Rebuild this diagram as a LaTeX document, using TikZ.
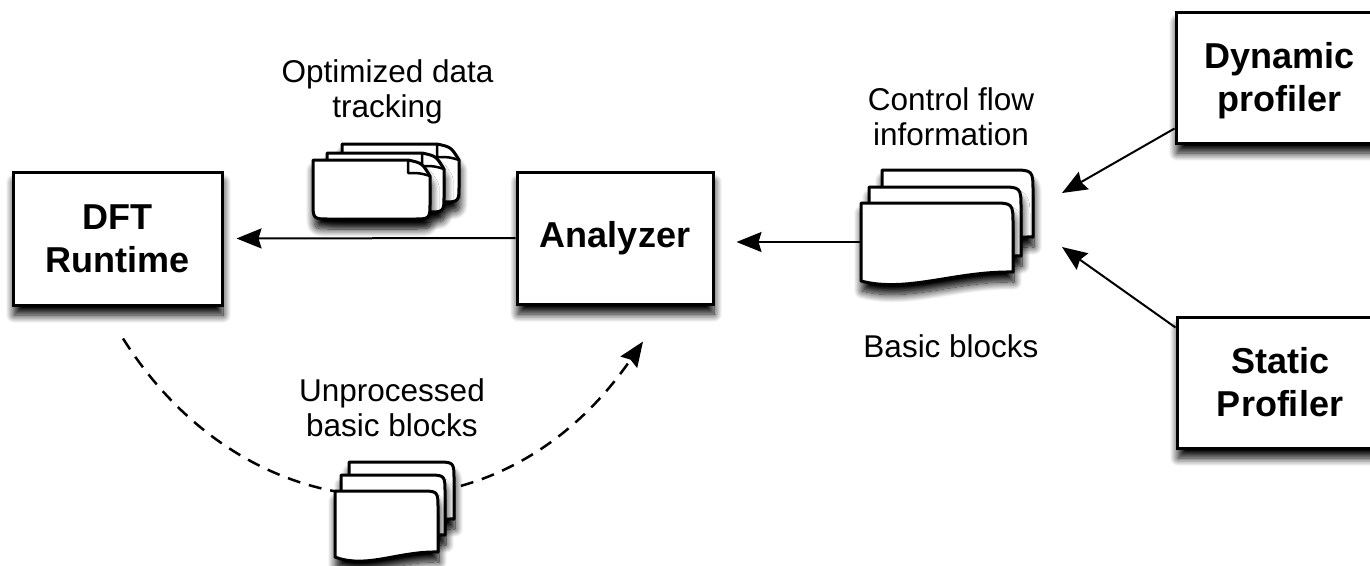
\documentclass[tikz,border=0pt]{standalone}
\usepackage{fontspec}
\setmainfont{Liberation Sans}
\usetikzlibrary{arrows.meta,calc,shadows.blur}
\tikzset{
  shd/.style={blur shadow={shadow xshift=1pt, shadow yshift=-10pt, shadow blur radius=8pt, shadow blur steps=14, shadow opacity=100}},
  box/.style={draw, line width=3pt, fill=white, shd, font=\bfseries\fontsize{36}{43}\selectfont, align=center, inner sep=0pt},
  ghost/.style={inner sep=0pt, outer sep=0pt, anchor=north west},
  lbl/.style={font=\fontsize{31.5}{35}\selectfont, align=center, inner sep=0pt},
  docline/.style={draw, fill=white, line width=3pt, line join=round, shd},
  arr/.style={line width=2pt, -{Stealth[length=25pt,width=20pt,inset=3pt]}},
  dasharr/.style={line width=2.5pt, dash pattern=on 13pt off 9pt, -{Stealth[length=25pt,width=20pt,inset=3pt]}},
  pics/doca/.style n args={2}{code={
    \path[docline] (0,0) -- ({#1-22},0) .. controls ({#1-8},3) .. (#1,16) -- (#1,{#2-17})
      .. controls (#1,#2) .. ({#1-17},#2) -- (17,#2) .. controls (0,#2) .. (0,{#2-17}) -- cycle;
    \draw[line width=2.5pt, line join=round] ({#1-22},0) -- ({#1-22},13) .. controls ({#1-10},13) .. (#1,16);
  }},
  pics/docb/.style n args={4}{code={
    \path[docline] (0,0) -- ({#1-#4},0) .. controls (#1,0) .. (#1,#4) -- (#1,#3)
      .. controls ({0.62*#1},{#3-1}) and ({0.3*#1},{#2+12}) .. (0,#2) -- cycle;
  }},
}
\begin{document}
\begin{tikzpicture}[x=1pt,y=-1pt]
\useasboundingbox (0,0) rectangle (1370,565);

% boxes
\node[box, minimum width=209pt, minimum height=133pt] (dft) at (117.5,238.5) {DFT\\Runtime};
\node[box, minimum width=196pt, minimum height=132pt] (ana) at (615,238) {Analyzer};
\node[box, minimum width=207pt, minimum height=131pt] (dyn) at (1279.5,77.5) {Dynamic\\\smash{p}rofiler};
\node[box, minimum width=206pt, minimum height=131pt] (st) at (1280,382.5) {Static\\Profiler};

% stack anchors
\node[ghost, minimum width=117pt, minimum height=59pt] (opt) at (313,160) {};
\node[ghost, minimum width=152pt, minimum height=78pt] (cf) at (861,203) {};
\node[ghost, minimum width=103pt, minimum height=66pt] (unp) at (335,491) {};
\coordinate (cfin1) at (1062,193);
\coordinate (cfin2) at (1062,247);

% dashed feedback connector
\draw[dasharr] ($(dft.south)+(5.5,32)$) .. controls (250,540) and (500,550) .. ($(ana.south)+(28,36)$);

% document stacks
\pic at ($(opt.north west)+(29,-16)$) {doca={117}{58}};
\pic at ($(opt.north west)+(14,-7)$) {doca={117}{59}};
\pic at (opt.north west) {doca={117}{59}};

\pic at ($(cf.north west)+(21,-33)$) {docb={151}{78}{67}{22}};
\pic at ($(cf.north west)+(8,-16)$) {docb={152}{78}{69}{22}};
\pic at (cf.north west) {docb={152}{78}{69}{22}};

\pic at ($(unp.north west)+(14,-29)$) {docb={105}{66}{57}{18}};
\pic at ($(unp.north west)+(6,-16)$) {docb={104}{66}{60}{18}};
\pic at (unp.north west) {docb={103}{66}{61}{18}};

% labels
\node[lbl, anchor=north] (lopt) at (387.5,59) {Optimized data\\tracking};
\node[lbl, anchor=north] (lcf) at (951,87) {Control flow\\information};
\node[lbl, anchor=base] (lbb) at (951,357) {Basic blocks};
\node[lbl, anchor=north] (lunp) at (392,378) {Unprocessed\\basic blocks};

% connectors
\draw[arr, shorten >=13pt] (ana.west) -- (dft.east);
\draw[arr, shorten >=22pt] (cf.west) -- (cf.west -| ana.east);
\draw[arr] ($(dyn.south west)+(0,-16)$) -- (cfin1);
\draw[arr] ($(st.north west)+(0,12)$) -- (cfin2);
\end{tikzpicture}
\end{document}
